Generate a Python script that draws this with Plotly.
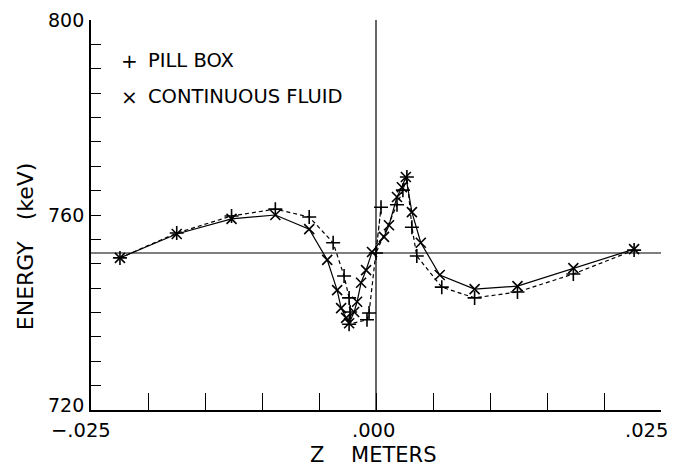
import plotly.graph_objects as go

# Pill box (+, dashed)
pill_z = [-0.02246, -0.01748, -0.01267, -0.00883, -0.00586, -0.00376, -0.00280,
          -0.00236, -0.00227, -0.00236, -0.00079, -0.00061, 0.00044, 0.00000,
          0.00184, 0.00236, 0.00271, 0.00315, 0.00358, 0.00577, 0.00865,
          0.01241, 0.01731, 0.02264]
pill_e = [751.2, 756.3, 759.8, 761.2, 759.6, 754.3, 747.5,
          743.0, 740.1, 737.6, 738.5, 739.9, 761.6, 752.2,
          762.1, 765.1, 767.8, 757.5, 751.6, 745.2, 743.0,
          744.2, 747.9, 752.8]

# Continuous fluid (x, solid)
fluid_z = [-0.02246, -0.01748, -0.01267, -0.00883, -0.00586, -0.00428, -0.00341,
           -0.00306, -0.00262, -0.00236, -0.00192, -0.00166, -0.00131, -0.00087,
           -0.00035, 0.00070, 0.00114, 0.00184, 0.00227, 0.00262, 0.00315,
           0.00393, 0.00559, 0.00865, 0.01241, 0.01731, 0.02264]
fluid_e = [751.2, 756.1, 759.2, 760.0, 757.1, 750.8, 744.6,
           740.9, 738.9, 737.8, 740.1, 742.2, 746.1, 748.7,
           752.4, 755.5, 757.9, 763.7, 765.7, 767.8, 760.6,
           754.3, 747.7, 744.8, 745.4, 749.1, 753.0]

ref_energy = 752.2
x_tickvals = [-0.025, 0.0, 0.025]
x_ticktext = ["\u2212.025", ".000", ".025"]
x_label_shift = [-10, -3, -15]
y_tickvals = [720, 760, 800]
y_ticktext = ["720", "760", "800"]
y_label_shift = [5, 0, 0]

FONT = "DejaVu Sans, Liberation Sans, sans-serif"

fig = go.Figure()
fig.add_trace(go.Scatter(
    x=pill_z, y=pill_e, mode="lines+markers", name="PILL BOX",
    line=dict(color="black", width=1.2, dash="4px,3px"),
    marker=dict(symbol="cross-thin", size=10, line=dict(color="black", width=1.6)),
))
fig.add_trace(go.Scatter(
    x=fluid_z, y=fluid_e, mode="lines+markers", name="CONTINUOUS FLUID",
    line=dict(color="black", width=1.2),
    marker=dict(symbol="x-thin", size=10, line=dict(color="black", width=1.6)),
))

fig.add_shape(type="line", x0=-0.025, x1=0.025, y0=ref_energy, y1=ref_energy,
              line=dict(color="black", width=1.2), layer="below")
fig.add_shape(type="line", x0=0, x1=0, y0=720, y1=800,
              line=dict(color="black", width=1.2), layer="below")

# legend texts
legend_rows = [("+", "PILL BOX", 0.895), ("\u00d7", "CONTINUOUS FLUID", 0.803)]
for sym, label, yp in legend_rows:
    fig.add_annotation(x=0.0, y=yp, xref="paper", yref="paper", xanchor="center",
                       yanchor="middle", xshift=38, showarrow=False, text=sym,
                       font=dict(family=FONT, size=20, color="black"))
    fig.add_annotation(x=0.0, y=yp, xref="paper", yref="paper", xanchor="left",
                       yanchor="middle", xshift=55, showarrow=False, text=label,
                       font=dict(family=FONT, size=19.5, color="black"))

# x tick labels
for v, t, s in zip(x_tickvals, x_ticktext, x_label_shift):
    fig.add_annotation(x=v, y=0.0, xref="x", yref="paper", xanchor="center",
                       yanchor="top", xshift=s, yshift=-7, showarrow=False, text=t,
                       font=dict(family=FONT, size=19.5, color="black"))

# y tick labels
for v, t, s in zip(y_tickvals, y_ticktext, y_label_shift):
    fig.add_annotation(x=0.0, y=v, xref="paper", yref="y", xanchor="right",
                       yanchor="middle", xshift=-5, yshift=s, showarrow=False, text=t,
                       font=dict(family=FONT, size=19, color="black"))

# axis titles
fig.add_annotation(x=0.0, y=0.42, xref="paper", yref="paper", xanchor="center",
                   yanchor="middle", xshift=-66, showarrow=False, textangle=-90,
                   text="ENERGY   (keV)", font=dict(family=FONT, size=22, color="black"))
fig.add_annotation(x=0.0, y=0.0, xref="x", yref="paper", xanchor="center",
                   yanchor="middle", xshift=-3, yshift=-45, showarrow=False,
                   text="Z    METERS", font=dict(family=FONT, size=21, color="black"))

fig.update_layout(
    width=682, height=466,
    margin=dict(l=91, r=21, t=20, b=56),
    paper_bgcolor="white", plot_bgcolor="white",
    showlegend=False,
    font=dict(family=FONT, size=19, color="black"),
    xaxis=dict(
        range=[-0.025, 0.025], showgrid=False, zeroline=False, automargin=False,
        showline=True, linecolor="black", linewidth=1.5,
        tickvals=x_tickvals, showticklabels=False,
        ticks="inside", ticklen=17, tickcolor="black", tickwidth=1.2,
        minor=dict(dtick=0.005, tick0=0, ticks="inside", ticklen=17,
                   tickcolor="black", tickwidth=1.2, showgrid=False),
    ),
    yaxis=dict(
        range=[720, 800], showgrid=False, zeroline=False, automargin=False,
        showline=True, linecolor="black", linewidth=1.5,
        tickvals=y_tickvals, showticklabels=False,
        ticks="inside", ticklen=10, tickcolor="black", tickwidth=1.2,
        minor=dict(dtick=5, tick0=0, ticks="inside", ticklen=10,
                   tickcolor="black", tickwidth=1.2, showgrid=False),
    ),
)

fig.write_html("out.html", config={"displayModeBar": False},
               post_script="document.body.style.margin='0';document.body.style.overflow='hidden';")
